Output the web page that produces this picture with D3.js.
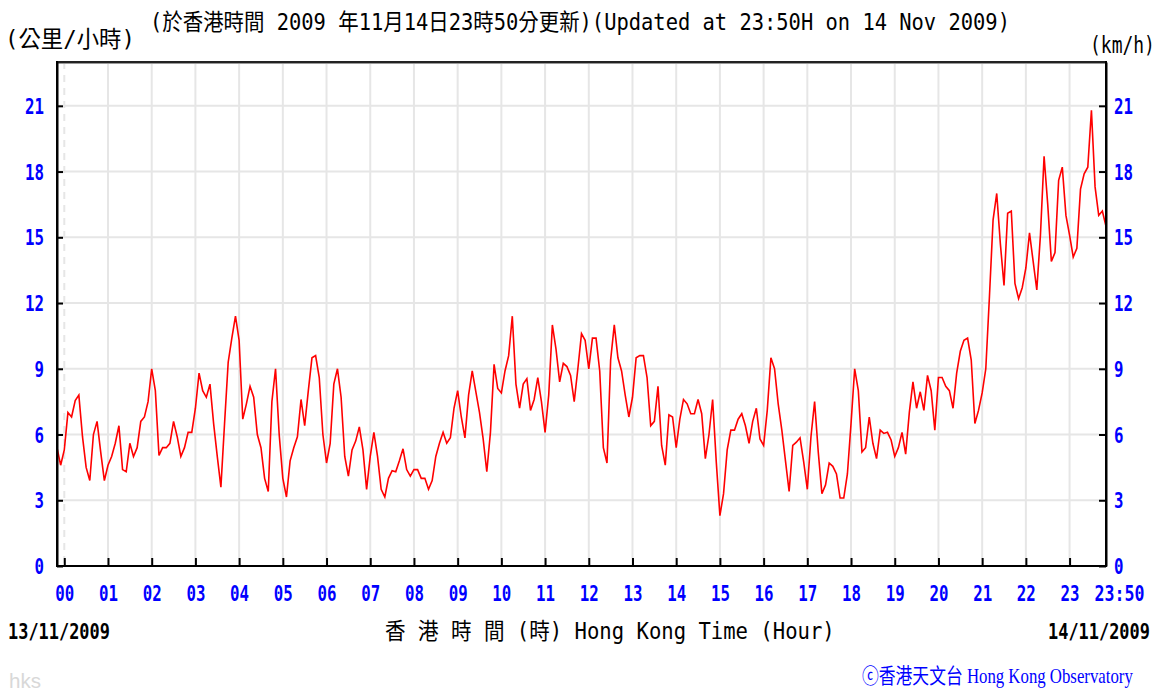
<!DOCTYPE html>
<html>
<head>
<meta charset="utf-8">
<script src="https://cdn.jsdelivr.net/npm/d3@7"></script>
<style>
  html, body { margin: 0; padding: 0; background: #ffffff; }
  svg { display: block; }
</style>
</head>
<body>
<svg id="chart" width="1161" height="694"></svg>
<script>
// 10-minute mean wind speed (km/h), one reading every 5 minutes,
// from 23:50 on 13/11/2009 to 23:50 on 14/11/2009.
const startMinute = -10;
const stepMinutes = 5;
const speeds = [
  5.4, 4.6,
  5.3, 7.0, 6.8, 7.55, 7.8, 5.9, 4.5, 3.9, 6.0, 6.6, 5.2, 3.9,
  4.6, 5.0, 5.6, 6.4, 4.4, 4.3, 5.6, 5.0, 5.4, 6.6, 6.8, 7.5,
  9.0, 8.0, 5.05, 5.4, 5.4, 5.6, 6.6, 5.9, 5.0, 5.4, 6.1, 6.1,
  7.2, 8.8, 8.0, 7.7, 8.3, 6.5, 5.0, 3.6, 6.5, 9.3, 10.4, 11.4,
  10.3, 6.7, 7.4, 8.2, 7.7, 6.0, 5.4, 4.0, 3.4, 7.5, 9.0, 6.0,
  4.0, 3.15, 4.8, 5.4, 5.9, 7.6, 6.4, 8.0, 9.5, 9.6, 8.6, 6.0,
  4.7, 5.6, 8.3, 9.0, 7.7, 5.0, 4.1, 5.3, 5.7, 6.35, 5.3, 3.5,
  5.0, 6.1, 5.0, 3.5, 3.15, 4.0, 4.35, 4.3, 4.8, 5.35, 4.4, 4.1,
  4.4, 4.4, 4.0, 4.0, 3.5, 3.9, 5.0, 5.6, 6.1, 5.6, 5.85, 7.2,
  8.0, 6.8, 5.85, 7.8, 8.9, 7.95, 7.0, 5.8, 4.3, 6.1, 9.2, 8.1,
  7.9, 8.9, 9.6, 11.4, 8.3, 7.2, 8.3, 8.55, 7.1, 7.6, 8.6, 7.5,
  6.1, 7.8, 11.0, 9.9, 8.4, 9.25, 9.1, 8.7, 7.5, 9.0, 10.6, 10.3,
  9.0, 10.4, 10.4, 8.9, 5.4, 4.7, 9.4, 11.0, 9.5, 8.9, 7.8, 6.8,
  7.7, 9.5, 9.6, 9.6, 8.6, 6.4, 6.6, 8.2, 5.5, 4.6, 6.9, 6.8,
  5.4, 6.7, 7.6, 7.4, 6.95, 6.95, 7.6, 6.95, 4.9, 6.0, 7.6, 4.75,
  2.3, 3.3, 5.3, 6.2, 6.2, 6.7, 6.95, 6.4, 5.6, 6.6, 7.2, 5.8,
  5.5, 7.1, 9.5, 9.0, 7.4, 6.2, 4.8, 3.4, 5.5, 5.65, 5.85, 4.75,
  3.5, 5.9, 7.5, 5.2, 3.3, 3.7, 4.7, 4.55, 4.2, 3.1, 3.1, 4.2,
  6.5, 9.0, 8.0, 5.2, 5.4, 6.8, 5.6, 4.9, 6.2, 6.05, 6.1, 5.75,
  5.0, 5.4, 6.1, 5.1, 7.0, 8.4, 7.2, 7.95, 7.1, 8.7, 8.0, 6.2,
  8.6, 8.6, 8.2, 8.0, 7.2, 8.8, 9.8, 10.3, 10.4, 9.4, 6.5, 7.1,
  7.9, 9.0, 12.3, 15.8, 17.0, 14.7, 12.8, 16.1, 16.2, 12.9, 12.2, 12.7,
  13.6, 15.2, 13.9, 12.6, 15.1, 18.7, 16.5, 13.9, 14.3, 17.6, 18.2, 16.0,
  15.1, 14.1, 14.5, 17.2, 17.9, 18.2, 20.8, 17.3, 16.0, 16.2, 15.5
];

const yTicks = [0, 3, 6, 9, 12, 15, 18, 21];
const hourTicks = d3.range(0, 24).map(h => h * 60);
const hourLabels = ["00","01","02","03","04","05","06","07","08","09","10","11",
                    "12","13","14","15","16","17","18","19","20","21","22","23"];
const endMinute = 23 * 60 + 50;
const endLabel = "23:50";

const titleText = "(於香港時間 2009 年11月14日23時50分更新)(Updated at 23:50H on 14 Nov 2009)";
const unitLeft = "(公里/小時)";
const unitRight = "(km/h)";
const dateLeft = "13/11/2009";
const dateRight = "14/11/2009";
const axisTitle = "香 港 時 間 (時) Hong Kong Time (Hour)";
const credit = "ⓒ香港天文台 Hong Kong Observatory";
const tag = "hks";

const points = speeds.map((v, i) => ({ t: startMinute + i * stepMinutes, v }));

const svg = d3.select("#chart");
const plotLeft = 57, plotRight = 1106, plotTop = 62, plotBottom = 566;
const mono = "'DejaVu Sans Mono', 'Liberation Mono', 'Noto Sans CJK TC', monospace";

const x = d3.scaleLinear().domain([startMinute, endMinute]).range([plotLeft, plotRight]);
const y = d3.scaleLinear().domain([0, 23]).range([plotBottom, plotTop]);

// Places a text so that it spans a given width, squeezing it horizontally.
function fitText(parent, str, xPos, yPos, width, opts) {
  const g = parent.append("g");
  const t = g.append("text")
    .attr("x", 0).attr("y", 0)
    .attr("text-anchor", "start")
    .attr("font-family", opts.family || mono)
    .attr("font-size", opts.size || 20)
    .attr("font-weight", opts.weight || "normal")
    .attr("fill", opts.fill || "#000")
    .text(str);
  const natural = t.node().getComputedTextLength();
  const sx = width / natural;
  const anchor = opts.anchor || "start";
  const x0 = anchor === "middle" ? xPos - width / 2 : anchor === "end" ? xPos - width : xPos;
  g.attr("transform", `translate(${x0},${yPos}) scale(${sx},1)`);
  return g;
}

// grid
const grid = svg.append("g");
grid.selectAll("line.h").data(yTicks.filter(d => d > 0)).join("line")
  .attr("class", "h")
  .attr("x1", plotLeft).attr("x2", plotRight)
  .attr("y1", d => y(d)).attr("y2", d => y(d))
  .attr("stroke", "#e6e6e6").attr("stroke-width", 2);
grid.selectAll("line.v").data(hourTicks).join("line")
  .attr("class", "v")
  .attr("x1", d => x(d)).attr("x2", d => x(d))
  .attr("y1", plotTop).attr("y2", plotBottom)
  .attr("stroke", "#e6e6e6").attr("stroke-width", 2)
  .attr("stroke-dasharray", d => d === 0 ? "7,6" : null);

// wind line
const line = d3.line().x(d => x(d.t)).y(d => y(d.v));
svg.append("path").datum(points)
  .attr("d", line)
  .attr("fill", "none")
  .attr("stroke", "#ff0000")
  .attr("stroke-width", 1.6)
  .attr("stroke-linejoin", "miter");

// frame top
svg.append("line").attr("x1", plotLeft).attr("x2", plotRight).attr("y1", plotTop).attr("y2", plotTop)
  .attr("stroke", "#222").attr("stroke-width", 2);
svg.append("line").attr("x1", plotLeft).attr("x2", plotRight).attr("y1", plotTop + 1.5).attr("y2", plotTop + 1.5)
  .attr("stroke", "#999").attr("stroke-width", 1);

function styleAxis(g) {
  g.select(".domain").attr("stroke", "#000").attr("stroke-width", 2);
  g.selectAll(".tick line").attr("stroke", "#000").attr("stroke-width", 2);
}

// Replaces the default tick texts with squeezed blue labels.
function labelTicks(g, fmt, widthOf, dxOf, dyPos, anchor) {
  g.selectAll(".tick").each(function (d) {
    const tick = d3.select(this);
    tick.select("text").remove();
    fitText(tick, fmt(d), dxOf(d), dyPos, widthOf(d),
      { size: 21, weight: "bold", fill: "#0000ff", anchor });
  });
}

const yAxisL = svg.append("g").attr("transform", `translate(${plotLeft},0)`)
  .call(d3.axisLeft(y).tickValues(yTicks).tickSizeInner(-6).tickSizeOuter(0));
styleAxis(yAxisL);
labelTicks(yAxisL, d => String(d), d => String(d).length * 9.5, () => -13, 7.5, "end");

const yAxisR = svg.append("g").attr("transform", `translate(${plotRight},0)`)
  .call(d3.axisRight(y).tickValues(yTicks).tickSizeInner(-7).tickSizeOuter(0));
styleAxis(yAxisR);
labelTicks(yAxisR, d => String(d), d => String(d).length * 9.5, () => 8, 7.5, "start");

const xTickValues = hourTicks.concat([endMinute]);
const xAxis = svg.append("g").attr("transform", `translate(0,${plotBottom})`)
  .call(d3.axisBottom(x).tickValues(xTickValues).tickSizeInner(-8).tickSizeOuter(0));
styleAxis(xAxis);
labelTicks(xAxis,
  d => d === endMinute ? endLabel : hourLabels[d / 60],
  d => d === endMinute ? 50 : 19,
  d => d === endMinute ? 13 : 0,
  35, "middle");
xAxis.selectAll(".tick line").filter(d => d === endMinute).remove();
xAxis.select(".domain").attr("d", `M${plotLeft},0H${plotRight}`);

// left and right frame edges
svg.append("line").attr("x1", plotLeft).attr("x2", plotLeft).attr("y1", plotTop - 1).attr("y2", plotBottom + 1)
  .attr("stroke", "#000").attr("stroke-width", 2);
svg.append("line").attr("x1", plotRight).attr("x2", plotRight).attr("y1", plotTop - 1).attr("y2", plotBottom + 1)
  .attr("stroke", "#000").attr("stroke-width", 2);

// titles and notes
fitText(svg, titleText, 150, 30, 860, { size: 23 });
fitText(svg, unitLeft, 5, 47, 130, { size: 23 });
fitText(svg, unitRight, 1090, 53, 65, { size: 23 });
fitText(svg, dateLeft, 8, 639, 102, { size: 21, weight: "bold" });
fitText(svg, dateRight, 1048, 639, 102, { size: 21, weight: "bold" });
fitText(svg, axisTitle, 385, 639, 450, { size: 23 });
fitText(svg, tag, 9, 688, 32, { size: 20, fill: "#d8d8d8", family: "'Liberation Sans', Arial, sans-serif" });
fitText(svg, credit, 862, 683, 271, { size: 21, fill: "#0000ff", family: "'Liberation Serif', 'Noto Sans CJK TC', serif" });
</script>
</body>
</html>
